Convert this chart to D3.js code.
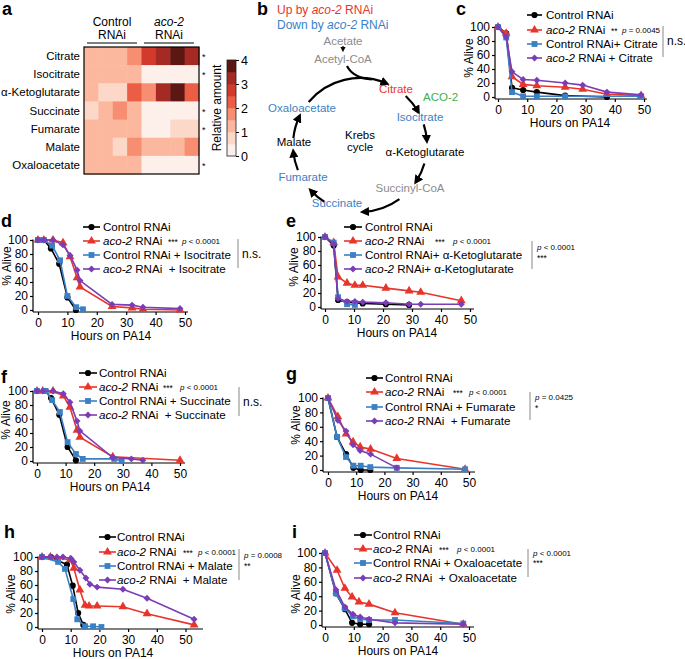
<!DOCTYPE html>
<html><head><meta charset="utf-8">
<script src="https://cdn.jsdelivr.net/npm/d3@7"></script>
<style>
body{margin:0;background:#fff}
svg{font-family:"Liberation Sans",Arial,sans-serif}
text{white-space:pre}
</style></head><body>
<script>
var width = 685, height = 659;

// ---- panel a: heatmap data (relative amount, 4 control + 4 aco-2 samples)
var metabolites = ["Citrate","Isocitrate","α-Ketoglutarate","Succinate","Fumarate","Malate","Oxaloacetate"];
var citrate   = [1.2,1.2,1.2,1.7, 2.7,3.2,3.8,3.4];
var isocitrate= [1.2,1.2,1.2,1.2, 0.2,0.2,0.2,0.2];
var akg       = [1.2,0.7,0.7,2.2, 1.7,3.2,3.9,2.3];
var succinate = [0.7,1.2,1.7,1.2, 0.2,0.2,0.2,0.2];
var fumarate  = [1.2,1.2,1.2,1.2, 0.2,0.2,0.7,0.7];
var malate    = [1.2,1.2,0.7,1.7, 1.2,1.2,1.2,1.7];
var oaa       = [1.2,1.2,1.2,1.2, 0.2,0.2,0.2,0.2];
var heatRows = [citrate, isocitrate, akg, succinate, fumarate, malate, oaa];
var starred = ["Citrate","Isocitrate","Succinate","Fumarate","Oxaloacetate"];
var barTicks = [0,1,2,3,4];
var heatColors = ["#fdf0ea","#fcd8c9","#fbb89f","#f88e71","#ec5d45","#d23b2c","#a52a23","#5c1712"];

// ---- survival curves: [hours, % alive]
var yTicks = [0,20,40,60,80,100];
var xTicks = [0,10,20,30,40,50];

var cCtrl = [[0,100],[2.8,91],[4.8,13],[8.6,10],[13.3,7],[23,2],[37.3,0]];
var cAco  = [[0,100],[2.8,91],[4.8,29],[8.6,18],[13.3,16],[23,14],[29,11],[37.3,4],[49,2]];
var cSup  = [[0,100],[2.8,85],[4.8,7],[8.6,1],[13.3,1],[23,1],[49,1]];
var cAcoSup = [[0,100],[2.8,86],[4.8,36],[8.6,25],[13.3,24],[23,20],[29,17],[37.3,7],[49,3]];

var dCtrl = [[0,100],[2,100],[4.4,88],[7.2,66],[10,18],[12.9,0]];
var dAco  = [[0,100],[2,100],[5.1,100],[8.5,96],[10.9,76],[13.3,46],[14.3,33],[25.2,5],[32,3],[35.7,1],[48.3,0]];
var dSup  = [[0,100],[2,100],[4.8,92],[7.5,71],[10,20],[13,4],[15.3,1]];
var dAcoSup = [[0,100],[2,100],[5.1,100],[8.5,93],[10.9,78],[13.3,57],[14.3,42],[25.2,8],[32,7],[35.7,4],[48.3,2]];

var eCtrl = [[0,100],[3,88],[4.5,10],[7.6,7],[10.3,6],[13,5],[21,4],[29,3]];
var eAco  = [[0,100],[3,92],[4.5,43],[7.6,34],[10.3,31],[13,31],[21,27],[29,23],[33,21],[47,9]];
var eSup  = [[0,100],[3,92],[4.5,14],[7.6,4],[10.3,3]];
var eAcoSup = [[0,100],[3,90],[4.5,12],[7.6,8],[10.3,8],[13,7],[21,6],[29,4],[33,4],[47,4]];

var fCtrl = [[0,100],[3,100],[4.9,90],[7.8,66],[10.7,20],[13.6,1]];
var fAco  = [[0,100],[2,100],[5.6,100],[9.2,93],[11.5,77],[14,44],[15,34],[26.5,6],[50,1]];
var fSup  = [[0,100],[3,100],[5.3,87],[8,70],[10.7,27],[13.6,10],[16,3],[27,3],[29.6,0]];
var fAcoSup = [[0,100],[2,100],[5.6,100],[9.2,96],[11.5,84],[14,57],[15,43],[26.5,5],[33,3],[37,1]];

var gCtrl = [[0,100],[3.2,46],[6.4,22],[9,3],[11.6,0],[15,0]];
var gAco  = [[0,100],[3.5,74],[6.4,50],[8.9,39],[11.4,32],[15.1,29],[24.4,16],[48.6,1]];
var gSup  = [[0,100],[3.2,46],[6.4,18],[9,6],[11.6,6],[15,4],[24.4,3],[48.6,1]];
var gAcoSup = [[0,100],[3.5,69],[6.4,54],[8.9,35],[11.4,27],[15.1,22],[24.4,3]];

var hCtrl = [[0,100],[3.1,100],[8.7,89],[10.7,59],[12.6,20],[14.4,3]];
var hAco  = [[0,100],[2.9,100],[9.8,96],[11.1,84],[13.2,53],[15,31],[16.4,30],[19.2,30],[28.2,29],[36.6,19],[53,3]];
var hSup  = [[0,100],[5.6,93],[8,83],[10.9,40],[12.3,11],[15,1],[17.8,1],[20.7,0]];
var hAcoSup = [[0,100],[2.9,100],[5.2,100],[7.3,100],[10.1,98],[11.1,93],[13.2,81],[15.3,70],[16.7,61],[19.2,57],[28.2,54],[36.6,41],[53,11]];

var iCtrl = [[0,100],[3.8,44],[6.9,22],[9.4,3],[12.2,1],[15.3,1]];
var iAco  = [[0,100],[4.2,76],[6.9,51],[9.4,39],[11.8,32],[15.3,29],[24.3,17],[48,1]];
var iSup  = [[0,100],[3.8,44],[6.9,23],[9.7,12],[12.2,8],[15.3,7],[24.3,7],[48,2]];
var iAcoSup = [[0,100],[3.8,49],[6.9,25],[9.7,15],[12.2,11],[15.3,8],[24.3,3],[48,1]];

var legC = ["Control RNAi","aco-2 RNAi","Control RNAi+ Citrate","aco-2 RNAi + Citrate"];
var legD = ["Control RNAi","aco-2 RNAi","Control RNAi + Isocitrate","aco-2 RNAi  + Isocitrate"];
var legE = ["Control RNAi","aco-2 RNAi","Control RNAi+ α-Ketoglutarate","aco-2 RNAi+ α-Ketoglutarate"];
var legF = ["Control RNAi","aco-2 RNAi","Control RNAi + Succinate","aco-2 RNAi  + Succinate"];
var legG = ["Control RNAi","aco-2 RNAi","Control RNAi + Fumarate","aco-2 RNAi  + Fumarate"];
var legH = ["Control RNAi","aco-2 RNAi","Control RNAi + Malate","aco-2 RNAi  + Malate"];
var legI = ["Control RNAi","aco-2 RNAi","Control RNAi + Oxaloacetate","aco-2 RNAi  + Oxaloacetate"];

var colors = ["#000000","#e8352b","#3b7fc4","#7b3db6"];
var RED = "#e8352b", BLUE = "#3b7fc4", GRAY = "#8c8c8c", GREEN = "#3fae49";

var svg = d3.select("body").append("svg")
	.attr("width", width)
	.attr("height", height);

var defs = svg.append("defs");
defs.append("marker").attr("id","ah").attr("viewBox","0 0 10 10")
	.attr("refX",6).attr("refY",5).attr("markerWidth",4.2).attr("markerHeight",4.2)
	.attr("orient","auto")
	.append("path").attr("d","M0,0L10,5L0,10z").attr("fill","#000");

function letter(t, x, y){
	svg.append("text").attr("x",x).attr("y",y).attr("font-size",18)
		.attr("font-weight","bold").text(t);
}

// label with italic "aco-2" prefix
function richText(sel, str){
	if (str.indexOf("aco-2") === 0) {
		sel.append("tspan").attr("font-style","italic").text("aco-2");
		sel.append("tspan").text(str.slice(5));
	} else sel.text(str);
}
function pText(g, x, y, str){
	var t = g.append("text").attr("x",x).attr("y",y).attr("font-size",8);
	t.append("tspan").attr("font-style","italic").text("p");
	t.append("tspan").text(str.slice(1));
}

// ================= panel a =================
letter("a", 2, 15);
var hx = d3.scaleBand().domain(d3.range(8)).range([84,199]);
var hy = d3.scaleBand().domain(metabolites).range([47,174]);
var hcol = d3.scaleQuantize().domain([0,4]).range(heatColors);

var ga = svg.append("g");
heatRows.forEach(function(row, r){
	ga.selectAll(null).data(row).enter().append("rect")
		.attr("x", function(d,i){return hx(i);})
		.attr("y", hy(metabolites[r]))
		.attr("width", hx.bandwidth()+0.5)
		.attr("height", hy.bandwidth()+0.5)
		.attr("fill", function(d){return hcol(d);});
});
ga.append("rect").attr("x",84).attr("y",47).attr("width",115).attr("height",127)
	.attr("fill","none").attr("stroke","#000").attr("stroke-width",1.2);
ga.selectAll(".rl").data(metabolites).enter().append("text")
	.attr("x",80).attr("y",function(d){return hy(d)+hy.bandwidth()/2+4;})
	.attr("text-anchor","end").attr("font-size",11.5).text(function(d){return d;});
ga.selectAll(".st").data(starred).enter().append("text")
	.attr("x",202).attr("y",function(d){return hy(d)+hy.bandwidth()/2+4;})
	.attr("font-size",9).text("*");
// group headers
[["Control",112,false],["aco-2",169,true]].forEach(function(h){
	ga.append("text").attr("x",h[1]).attr("y",26).attr("text-anchor","middle")
		.attr("font-size",12).attr("font-style",h[2]?"italic":"normal").text(h[0]);
	ga.append("text").attr("x",h[1]).attr("y",39).attr("text-anchor","middle")
		.attr("font-size",12).text("RNAi");
	ga.append("line").attr("x1",h[1]-25).attr("x2",h[1]+25).attr("y1",43).attr("y2",43)
		.attr("stroke","#000").attr("stroke-width",1.2);
});
// colour bar
var by = d3.scaleLinear().domain([0,4]).range([156,60]);
ga.selectAll(".cb").data(heatColors).enter().append("rect")
	.attr("x",227).attr("width",9)
	.attr("y",function(d,i){return by((i+1)*0.5);})
	.attr("height",by(0)-by(0.5)+0.3)
	.attr("fill",function(d){return d;});
ga.append("rect").attr("x",227).attr("y",60).attr("width",9).attr("height",96)
	.attr("fill","none").attr("stroke","#222").attr("stroke-width",0.8);
var bax = ga.append("g").attr("transform","translate(236,0)")
	.call(d3.axisRight(by).tickValues(barTicks).tickSize(3).tickPadding(2).tickFormat(d3.format("d")));
bax.select(".domain").remove();
bax.selectAll("text").attr("font-size",12.5).attr("font-family",null);
ga.append("text").attr("transform","translate(221,108) rotate(-90)").attr("text-anchor","middle")
	.attr("font-size",12).text("Relative amount");

// ================= panel b =================
letter("b", 257, 15);
var gb = svg.append("g").attr("font-size",11.5);
var up = gb.append("text").attr("x",277).attr("y",14).attr("fill",RED).attr("font-size",12);
up.append("tspan").text("Up by ");
up.append("tspan").attr("font-style","italic").text("aco-2");
up.append("tspan").text(" RNAi");
var dn = gb.append("text").attr("x",277).attr("y",29).attr("fill",BLUE).attr("font-size",12);
dn.append("tspan").text("Down by ");
dn.append("tspan").attr("font-style","italic").text("aco-2");
dn.append("tspan").text(" RNAi");

var cx = 360, cy = 145, R = 67;
function pt(a){ var t = a*Math.PI/180; return [cx+R*Math.sin(t), cy-R*Math.cos(t)]; }
var cycleArcs = [[-50,23],[43,60],[72,86],[106,123],[144,177],[212,227],[248,264],[276,295]];
cycleArcs.forEach(function(a){
	var p0 = pt(a[0]), p1 = pt(a[1]);
	gb.append("path")
		.attr("d","M"+p0[0]+","+p0[1]+"A"+R+","+R+" 0 0 1 "+p1[0]+","+p1[1])
		.attr("fill","none").attr("stroke","#000").attr("stroke-width",2.2)
		.attr("marker-end","url(#ah)");
});
gb.append("path").attr("d","M347,66 Q353,78 372,79.5").attr("fill","none")
	.attr("stroke","#000").attr("stroke-width",2.2);
gb.append("line").attr("x1",343).attr("x2",343).attr("y1",46).attr("y2",50)
	.attr("stroke","#000").attr("stroke-width",1.3).attr("marker-end","url(#ah)");

var cycleText = [
	["Acetate",343,45,GRAY,"middle"],
	["Acetyl-CoA",343,63,GRAY,"middle"],
	["Citrate",396,93,RED,"middle"],
	["ACO-2",423,101,GREEN,"start"],
	["Isocitrate",420,121,BLUE,"middle"],
	["α-Ketoglutarate",425,156,"#000","middle"],
	["Succinyl-CoA",410,192,GRAY,"middle"],
	["Succinate",337,207,BLUE,"middle"],
	["Fumarate",303,181,BLUE,"middle"],
	["Malate",294,146,"#000","middle"],
	["Oxaloacetate",302,112,BLUE,"middle"],
	["Krebs",360,139,"#000","middle"],
	["cycle",360,151,"#000","middle"]
];
cycleText.forEach(function(t){
	gb.append("text").attr("x",t[1]).attr("y",t[2]).attr("fill",t[3])
		.attr("text-anchor",t[4]).text(t[0]);
});

// ================= survival panels =================
var shapes = [
	d3.symbol().type(d3.symbolCircle).size(30),
	d3.symbol().type(d3.symbolTriangle).size(34),
	d3.symbol().type(d3.symbolSquare).size(34),
	d3.symbol().type(d3.symbolSquare).size(24)
];

function survival(p){
	letter(p.id, p.lx, p.ly);
	var g = svg.append("g");
	var x = d3.scaleLinear().domain([0,50]).range([p.x0,p.x50]);
	var y = d3.scaleLinear().domain([0,100]).range([p.y0,p.y100]);

	var ya = g.append("g").attr("transform","translate("+p.yAxisX+",0)")
		.call(d3.axisLeft(y).tickValues(yTicks).tickSize(3).tickPadding(2));
	var xa = g.append("g").attr("transform","translate(0,"+p.xAxisY+")")
		.call(d3.axisBottom(x).tickValues(xTicks).tickSize(3).tickPadding(3));
	[ya, xa].forEach(function(a){
		a.select(".domain").remove();
		a.selectAll("line").attr("stroke-width",1.2);
		a.selectAll("text").attr("font-size",12).attr("font-family",null);
	});
	g.append("line").attr("x1",p.yAxisX).attr("x2",p.yAxisX).attr("y1",p.y100-0.6).attr("y2",p.xAxisY)
		.attr("stroke","#000").attr("stroke-width",1.2);
	g.append("line").attr("x1",p.yAxisX).attr("x2",p.xEnd).attr("y1",p.xAxisY).attr("y2",p.xAxisY)
		.attr("stroke","#000").attr("stroke-width",1.2);

	g.append("text").attr("x",p.hx).attr("y",p.xAxisY+27.8).attr("text-anchor","middle")
		.attr("font-size",12).text("Hours on PA14");
	g.append("text").attr("transform","translate("+p.ax+","+p.ay+") rotate(-90)")
		.attr("text-anchor","middle").attr("font-size",12).text("% Alive");

	var line = d3.line().x(function(d){return x(d[0]);}).y(function(d){return y(d[1]);});
	p.series.forEach(function(s, i){
		g.append("path").datum(s).attr("d",line).attr("fill","none")
			.attr("stroke",colors[i]).attr("stroke-width",1.6);
		g.selectAll(null).data(s).enter().append("path")
			.attr("d",shapes[i])
			.attr("transform",function(d){
				return "translate("+x(d[0])+","+y(d[1])+")"+(i===3?" rotate(45)":"");
			})
			.attr("fill",colors[i]);
	});

	// legend
	p.names.forEach(function(n, i){
		var ry = p.rows[i];
		g.append("line").attr("x1",p.l1).attr("x2",p.l2).attr("y1",ry).attr("y2",ry)
			.attr("stroke",colors[i]).attr("stroke-width",1.6);
		g.append("path").attr("d",shapes[i])
			.attr("transform","translate("+((p.l1+p.l2)/2)+","+ry+")"+(i===3?" rotate(45)":""))
			.attr("fill",colors[i]);
		richText(g.append("text").attr("x",p.tx).attr("y",ry+4.2).attr("font-size",11.6), n);
	});
	// stats
	g.append("text").attr("x",p.sx).attr("y",p.rows[1]+4).attr("font-size",8.5).text(p.stars);
	pText(g, p.px, p.rows[1]+3, p.pv);
	g.append("line").attr("x1",p.bx).attr("x2",p.bx).attr("y1",p.b1).attr("y2",p.b2)
		.attr("stroke","#888").attr("stroke-width",1);
	if (p.ns) {
		g.append("text").attr("x",p.bx+4).attr("y",p.nsy).attr("font-size",12).text("n.s.");
	} else {
		pText(g, p.bx+5, p.bp1, p.bp);
		g.append("text").attr("x",p.bx+5).attr("y",p.bp2).attr("font-size",8.5).text(p.bstars);
	}
}

var panels = [
	{id:"c", lx:456, ly:15, yAxisX:495, x0:498, x50:644, y100:27, y0:97, xAxisY:99, xEnd:647,
	 hx:570, ax:473, ay:58, series:[cCtrl,cAco,cSup,cAcoSup], names:legC,
	 l1:527, l2:542, tx:546, rows:[15,30,44,58], sx:611, stars:"**", px:622, pv:"p = 0.0045",
	 bx:663, b1:26, b2:57, ns:true, nsy:45},
	{id:"d", lx:1, ly:227, yAxisX:33, x0:38, x50:185, y100:240, y0:310, xAxisY:312, xEnd:188,
	 hx:111, ax:11, ay:266, series:[dCtrl,dAco,dSup,dAcoSup], names:legD,
	 l1:83, l2:100, tx:103, rows:[227,241,255,269], sx:168, stars:"***", px:182, pv:"p < 0.0001",
	 bx:238, b1:239, b2:268, ns:true, nsy:258},
	{id:"e", lx:286, ly:227, yAxisX:321, x0:325, x50:470, y100:237, y0:307, xAxisY:309, xEnd:474,
	 hx:397, ax:298, ay:267, series:[eCtrl,eAco,eSup,eAcoSup], names:legE,
	 l1:344, l2:362, tx:365, rows:[227,241,255,269], sx:435, stars:"***", px:453, pv:"p < 0.0001",
	 bx:532, b1:241, b2:269, ns:false, bp:"p < 0.0001", bp1:250, bstars:"***", bp2:261},
	{id:"f", lx:1, ly:383, yAxisX:33, x0:37, x50:180, y100:391, y0:461, xAxisY:463, xEnd:185,
	 hx:110, ax:10, ay:420, series:[fCtrl,fAco,fSup,fAcoSup], names:legF,
	 l1:79, l2:97, tx:99, rows:[373,387,401,415], sx:163, stars:"***", px:180, pv:"p < 0.0001",
	 bx:239, b1:387, b2:416, ns:true, nsy:406},
	{id:"g", lx:286, ly:380, yAxisX:323, x0:328, x50:469, y100:398, y0:470, xAxisY:472, xEnd:475,
	 hx:398, ax:300, ay:425, series:[gCtrl,gAco,gSup,gAcoSup], names:legG,
	 l1:366, l2:383, tx:385, rows:[378,392,407,421], sx:453, stars:"***", px:469, pv:"p < 0.0001",
	 bx:530, b1:392, b2:420, ns:false, bp:"p = 0.0425", bp1:400, bstars:"*", bp2:411},
	{id:"h", lx:4, ly:538, yAxisX:38, x0:42, x50:185.5, y100:557, y0:627, xAxisY:629, xEnd:203,
	 hx:113, ax:15, ay:594, series:[hCtrl,hAco,hSup,hAcoSup], names:legH,
	 l1:99, l2:116, tx:117, rows:[537,552,566,580], sx:183, stars:"***", px:198, pv:"p < 0.0001",
	 bx:239, b1:549, b2:580, ns:false, bp:"p = 0.0008", bp1:558, bstars:"**", bp2:569},
	{id:"i", lx:292, ly:538, yAxisX:322, x0:325, x50:469, y100:553, y0:625, xAxisY:627, xEnd:474,
	 hx:398, ax:300, ay:594, series:[iCtrl,iAco,iSup,iAcoSup], names:legI,
	 l1:354, l2:372, tx:373, rows:[535,549,563,578], sx:439, stars:"***", px:457, pv:"p < 0.0001",
	 bx:528, b1:549, b2:577, ns:false, bp:"p < 0.0001", bp1:556, bstars:"***", bp2:566}
];
panels.forEach(survival);
</script></body></html>
